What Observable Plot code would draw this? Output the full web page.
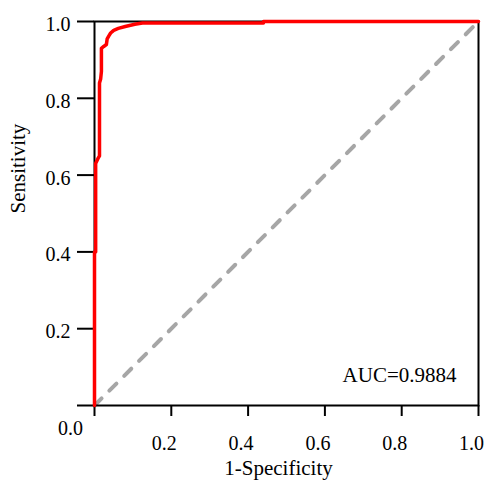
<!DOCTYPE html>
<html>
<head>
<meta charset="utf-8">
<script src="https://cdn.jsdelivr.net/npm/d3@7"></script>
<script src="https://cdn.jsdelivr.net/npm/@observablehq/plot@0.6"></script>
<style>
  html, body { margin: 0; padding: 0; background: #fff; }
  #chart { width: 486px; height: 480px; }
</style>
</head>
<body>
<div id="chart"></div>
<script>
// ROC curve
const fpr = [0, 0, 0.003, 0.003, 0.010, 0.013, 0.013, 0.016, 0.018, 0.018, 0.024, 0.031, 0.033, 0.037, 0.042, 0.050, 0.062, 0.080, 0.105, 0.125, 0.44, 0.44, 1];
const tpr = [0, 0.40, 0.40, 0.63, 0.645, 0.65, 0.84, 0.85, 0.87, 0.93, 0.935, 0.94, 0.955, 0.962, 0.970, 0.977, 0.982, 0.987, 0.993, 0.996, 0.996, 1.0, 1.0];
// reference diagonal
const diagX = [0, 1];
const diagY = [0, 1];
// ticks
const tickValues = [0, 0.2, 0.4, 0.6, 0.8, 1.0];
const tickLabels = ["0.0", "0.2", "0.4", "0.6", "0.8", "1.0"];
const xLabel = "1-Specificity";
const yLabel = "Sensitivity";
const aucText = "AUC=0.9884";

const roc = fpr.map((x, i) => ({x, y: tpr[i]}));
const diag = diagX.map((x, i) => ({x, y: diagY[i]}));
const lab = d => tickLabels[tickValues.indexOf(d)];

const chart = Plot.plot({
  width: 486,
  height: 480,
  marginLeft: 94,
  marginRight: 8,
  marginTop: 21,
  marginBottom: 75,
  style: {fontFamily: "'Liberation Serif', 'Times New Roman', serif", fontSize: "20px", color: "#000", background: "#fff"},
  x: {domain: [0, 1]},
  y: {domain: [0, 1]},
  marks: [
    Plot.line(diag, {x: "x", y: "y", stroke: "#a6a6a6", strokeWidth: 4, strokeDasharray: "10,11", strokeLinecap: "round"}),
    Plot.frame({stroke: "#000", strokeWidth: 2}),
    // x ticks
    Plot.axisX(tickValues, {tickSize: 11, strokeWidth: 2, tickFormat: () => "", label: null}),
    Plot.axisX(tickValues, {tickSize: 0, tickPadding: 30, dx: -7, fontSize: 20, tickFormat: d => d === 0 ? "" : lab(d), label: null}),
    // y ticks
    Plot.axisY(tickValues, {tickSize: 17, strokeWidth: 2, tickFormat: () => "", label: null}),
    Plot.axisY(tickValues, {tickSize: 0, tickPadding: 24, dy: 3, fontSize: 20, tickFormat: d => d === 0 ? "" : lab(d), label: null}),
    // origin label
    Plot.text([tickLabels[0]], {frameAnchor: "bottom-left", text: d => d, dx: -24, dy: 23, fontSize: 20, textAnchor: "middle", lineAnchor: "middle"}),
    // axis titles
    Plot.text([xLabel], {frameAnchor: "bottom", text: d => d, dx: -8, dy: 63, fontSize: 21, lineAnchor: "middle"}),
    Plot.text([yLabel], {frameAnchor: "left", text: d => d, dx: -76, dy: 0, rotate: -90, fontSize: 21, lineAnchor: "middle"}),
    // AUC
    Plot.text([aucText], {frameAnchor: "bottom-right", text: d => d, dx: -22, dy: -30, fontSize: 21, textAnchor: "end", lineAnchor: "middle"}),
    // ROC curve
    Plot.line(roc, {x: "x", y: "y", stroke: "#ff0000", strokeWidth: 3.5})
  ]
});
document.getElementById("chart").appendChild(chart);
</script>
</body>
</html>
